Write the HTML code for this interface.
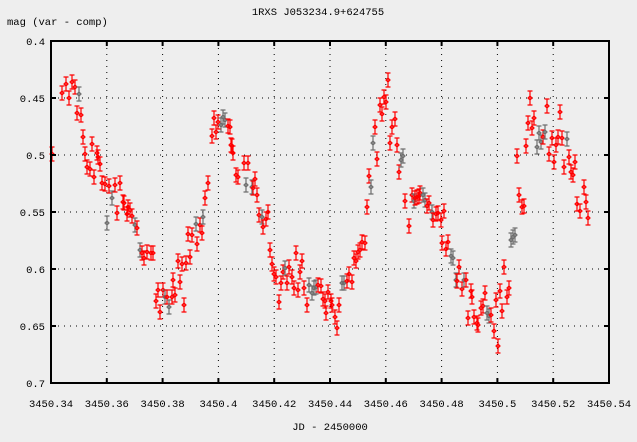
<!DOCTYPE html>
<html><head><meta charset="utf-8">
<style>
html,body{margin:0;padding:0;background:#eeeeee;}
svg{display:block;}
text{font-family:"Liberation Mono","DejaVu Sans Mono",monospace;font-size:10.5px;fill:#000;}
</style></head><body>
<svg id="s" width="637" height="442" xmlns="http://www.w3.org/2000/svg">
<rect width="637" height="442" fill="#eeeeee"/>
<g id="grid" stroke="#000" stroke-width="1" stroke-dasharray="1,5"></g>
<g id="pts"></g>
<rect x="51" y="41" width="558" height="342" fill="none" stroke="#000" stroke-width="2"/>
<g id="ticks" stroke="#000" stroke-width="2"></g>
<g id="lab"></g>
<text x="318" y="15" text-anchor="middle">1RXS J053234.9+624755</text>
<text x="7" y="25">mag (var - comp)</text>
<text x="330" y="430" text-anchor="middle">JD - 2450000</text>
</svg>
<script>
var NS="http://www.w3.org/2000/svg";
function el(p,t,a,txt){var e=document.createElementNS(NS,t);for(var k in a)e.setAttribute(k,a[k]);if(txt)e.textContent=txt;document.getElementById(p).appendChild(e);}
var xl=["3450.34","3450.36","3450.38","3450.4","3450.42","3450.44","3450.46","3450.48","3450.5","3450.52","3450.54"];
for(var i=0;i<11;i++){var x=51+i*55.8;
 if(i>0&&i<10)el("grid","line",{x1:x,y1:42,x2:x,y2:382});
 el("ticks","line",{x1:x,y1:383,x2:x,y2:378});el("ticks","line",{x1:x,y1:41,x2:x,y2:46});
 el("lab","text",{x:x,y:407,"text-anchor":"middle"},xl[i]);}
var yl=["0.4","0.45","0.5","0.55","0.6","0.65","0.7"];
for(var j=0;j<7;j++){var y=41+j*57;
 if(j>0&&j<6)el("grid","line",{x1:52,y1:y,x2:608,y2:y});
 el("ticks","line",{x1:51,y1:y,x2:56,y2:y});el("ticks","line",{x1:609,y1:y,x2:604,y2:y});
 el("lab","text",{x:45,y:y+4,"text-anchor":"end"},yl[j]);}
var P=[[52,154],[62,93],[66,84],[69,98],[72,82],[75,87],[79,94,1],[77,113],[81,115],[83,137],[85,154],[87,167],[90,169],[92,144],[94,177],[97,153],[98,157],[100,164],[102,183],[105,184],[107,223,1],[109,186],[112,198,1],[115,185],[117,213],[120,183],[123,202],[124,203],[127,214],[128,207],[130,210],[132,216],[135,225,1],[137,228],[140,250,1],[142,253],[144,258],[147,252],[151,253],[153,253],[156,301],[158,290],[160,312],[163,290],[165,297,1],[167,297],[169,307,1],[172,297],[173,280],[175,295],[178,261],[180,282],[182,264],[184,305],[186,263],[190,257],[188,234],[192,235],[196,224,1],[197,244],[200,225],[202,233],[203,217,1],[205,198],[208,183],[212,136],[214,118],[216,132],[218,122],[221,125,1],[223,117,1],[225,120,1],[228,126],[231,145],[233,153],[236,175],[238,177],
[230,127],[232,146],[244,163],[248,163],[246,185,1],[252,187,1],[253,188],[255,179],[257,195],[259,215],[262,217,1],[263,227],[266,219],[268,212],[270,250],[272,264],[274,274],[276,277],[279,302],[281,283],[283,272],[285,268,1],[287,283],[289,267],[292,277],[294,288],[296,253],[298,290],[300,272],[302,261],[304,288],[307,305],[309,285,1],[312,293,1],[314,288,1],[316,287,1],[318,285],[321,286],[323,299],[325,301],[326,313],[328,292],[331,301],[332,305],[335,317],[337,328],[339,305],[342,283,1],[344,283,1],[347,281],[349,274],[352,282],[354,258],[356,261],[358,252],[360,250],[362,242],[365,243],[367,207],[369,176],[371,187,1],[373,143,1],[375,127],[377,159],[380,105],[382,114],[384,97],[386,102],[388,80],[390,143],[392,127],[395,119],[397,145],[399,172],[401,160,1],[403,156,1],[405,201],[409,226],[412,195],[414,201,1],[417,197],[419,196],
[415,198],[420,193],[423,195,1],[425,200,1],[427,206],[429,203],[432,212,1],[433,220],[436,214],[438,213],[441,220],[444,211],[442,243],[446,249],[448,242],[451,256,1],[453,258,1],[456,280,1],[457,281],[459,267],[462,289],[464,280,1],[466,280],[468,318],[471,291],[472,297],[474,317],[477,323],[478,325],[481,308],[483,306],[485,293],[487,313,1],[489,316,1],[491,315],[494,331],[496,300],[498,346],[500,291],[502,311],[504,267],[507,297],[509,288],[511,240,1],[513,237,1],[515,235,1],[517,156],[519,195],[522,207],[524,206],[526,146],[528,123],[530,98],[532,128],[534,118],[537,147,1],[539,133,1],[541,142,1],[543,137],[545,132,1],[547,106],[549,154],[552,138],[554,162],[556,145],[558,137],[560,112],[562,138],[564,167],[567,139,1],[569,157],[571,172],[573,175],[575,162],[577,204],[580,211],[584,187],[586,202],[588,218]];
P.forEach(function(p){var c=p[2]?"#6e6e6e":"#ff0000",x=p[0],y=p[1],h=7;
 var d="M"+x+" "+(y-h)+"V"+(y+h)+"M"+(x-2.5)+" "+(y-h)+"H"+(x+2.5)+"M"+(x-2.5)+" "+(y+h)+"H"+(x+2.5)+"M"+(x-2)+" "+y+"L"+x+" "+(y-2)+"L"+(x+2)+" "+y+"L"+x+" "+(y+2)+"Z";
 el("pts","path",{d:d,stroke:c,"stroke-width":1.2,fill:"none"});});
</script>
</body></html>
